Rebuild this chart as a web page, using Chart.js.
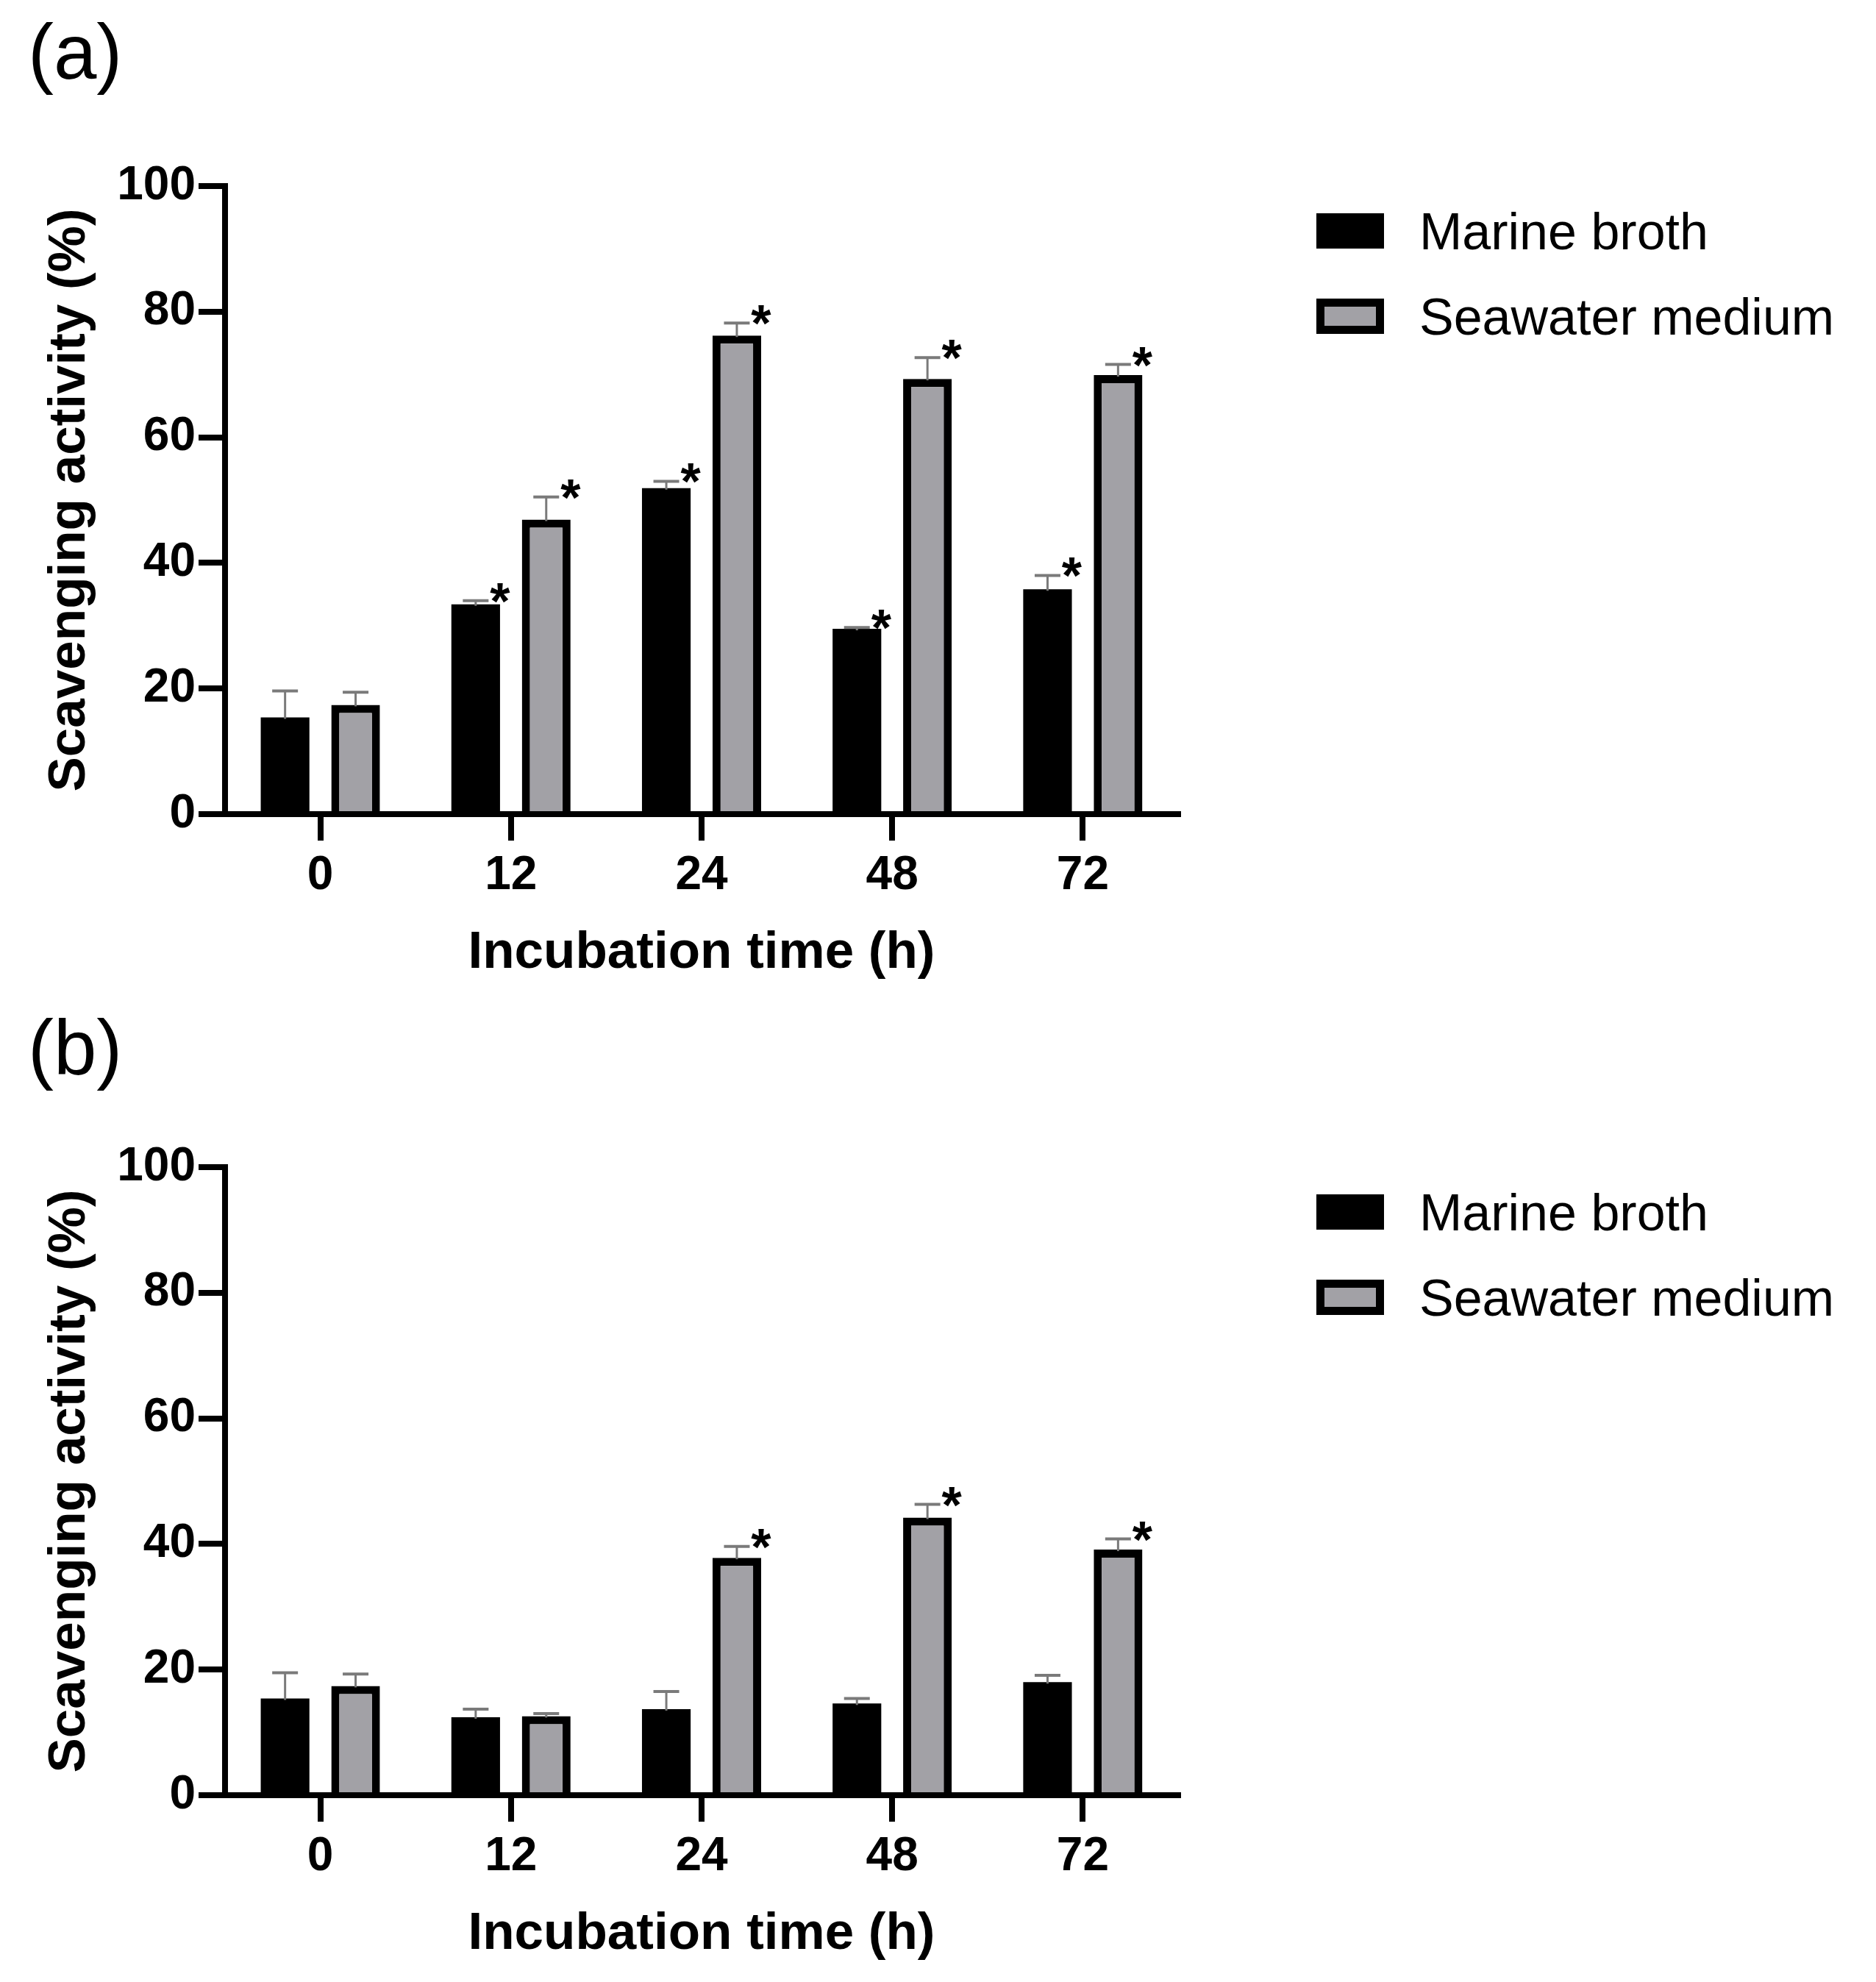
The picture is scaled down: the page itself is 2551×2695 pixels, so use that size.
<!DOCTYPE html>
<html><head><meta charset="utf-8">
<script src="https://cdn.jsdelivr.net/npm/chart.js@4.4.0/dist/chart.umd.min.js"></script>
<style>
html,body{margin:0;padding:0;background:#fff;}
body{width:2551px;height:2695px;position:relative;overflow:hidden;}
canvas{position:absolute;left:0;}
</style></head><body>
<canvas id="ca" width="2551" height="1341" style="top:0px;width:2551px;height:1341px"></canvas>
<canvas id="cb" width="2551" height="1341" style="top:1334px;width:2551px;height:1341px"></canvas>
<script>
// ---- data ----
const categories = ['0', '12', '24', '48', '72'];
const seriesNames = ['Marine broth', 'Seawater medium'];
const yTicks = [0, 20, 40, 60, 80, 100];
const xTitle = 'Incubation time (h)';
const yTitle = 'Scavenging activity (%)';

// panel (a)
const aMarine = [15.4, 33.4, 51.9, 29.5, 35.8];
const aMarineErr = [4.2, 0.6, 1.1, 0.2, 2.2];
const aMarineSig = ['', '*', '*', '*', '*'];
const aSeawater = [17.4, 46.9, 76.2, 69.3, 69.9];
const aSeawaterErr = [2.0, 3.6, 2.0, 3.4, 1.7];
const aSeawaterSig = ['', '*', '*', '*', '*'];

// panel (b)
const bMarine = [15.4, 12.4, 13.7, 14.6, 18.0];
const bMarineErr = [4.1, 1.3, 2.8, 0.8, 1.1];
const bMarineSig = ['', '', '', '', ''];
const bSeawater = [17.4, 12.6, 37.8, 44.2, 39.1];
const bSeawaterErr = [1.9, 0.4, 1.8, 2.1, 1.7];
const bSeawaterSig = ['', '', '*', '*', '*'];

// ---- style ----
const FONT = "'Liberation Sans', Arial, sans-serif";
const GREY = '#a2a1a6';
const ERRC = '#7a7a7a';

const extrasPlugin = {
  id: 'extras',
  afterDatasetsDraw(chart, args, opts) {
    const ctx = chart.ctx;
    const y = chart.scales.y;
    ctx.save();
    chart.data.datasets.forEach((ds, i) => {
      const meta = chart.getDatasetMeta(i);
      meta.data.forEach((el, j) => {
        const v = ds.data[j];
        const e = ds.err[j];
        const topPx = y.getPixelForValue(v + e);
        const barTop = el.y;
        ctx.strokeStyle = ERRC;
        ctx.lineWidth = 3;
        ctx.beginPath();
        ctx.moveTo(el.x, barTop + 2);
        ctx.lineTo(el.x, topPx);
        ctx.stroke();
        ctx.lineWidth = 4;
        ctx.beginPath();
        ctx.moveTo(el.x - 17.5, topPx);
        ctx.lineTo(el.x + 17.5, topPx);
        ctx.stroke();
        const s = ds.sig[j];
        if (s) {
          ctx.fillStyle = '#000';
          ctx.font = 'bold 70px ' + FONT;
          ctx.textAlign = 'center';
          ctx.textBaseline = 'alphabetic';
          ctx.fillText(s, el.x + 33, topPx - 15 + 40);
        }
      });
    });
    ctx.restore();
  },
  afterDraw(chart, args, opts) {
    const ctx = chart.ctx;
    ctx.save();
    ctx.fillStyle = '#000';
    ctx.font = '105px ' + FONT;
    ctx.textAlign = 'left';
    ctx.textBaseline = 'alphabetic';
    ctx.fillText(opts.panel, 38, opts.labelY);
    const lx = 1790, bw = 92, bh = 48, rows = [314, 430];
    chart.data.datasets.forEach((ds, i) => {
      const cy = rows[i];
      ctx.fillStyle = '#000';
      ctx.fillRect(lx, cy - bh / 2, bw, bh);
      if (ds.borderWidth > 0) {
        ctx.fillStyle = ds.backgroundColor;
        ctx.fillRect(lx + 11, cy - bh / 2 + 11, bw - 22, bh - 22);
      }
      ctx.fillStyle = '#000';
      ctx.font = '70px ' + FONT;
      ctx.textAlign = 'left';
      ctx.textBaseline = 'alphabetic';
      ctx.fillText(ds.label, 1930, cy + 25);
    });
    ctx.restore();
  }
};

function makeChart(id, panel, labelY, mv, me, ms, sv, se, ss) {
  return new Chart(document.getElementById(id), {
    type: 'bar',
    data: {
      labels: categories,
      datasets: [
        { label: seriesNames[0], data: mv, err: me, sig: ms,
          backgroundColor: '#000', borderColor: '#000', borderWidth: 0 },
        { label: seriesNames[1], data: sv, err: se, sig: ss,
          backgroundColor: GREY, borderColor: '#000', borderWidth: 11, borderSkipped: 'start' }
      ]
    },
    options: {
      responsive: false,
      animation: false,
      devicePixelRatio: 1,
      categoryPercentage: 0.74,
      barPercentage: 0.69,
      layout: { padding: { top: 253, right: 949, bottom: 0, left: 0 } },
      plugins: {
        legend: { display: false },
        tooltip: { enabled: false },
        extras: { panel: panel, labelY: labelY }
      },
      scales: {
        x: {
          type: 'category',
          offset: true,
          afterFit: s => { s.height = 234; },
          grid: { display: true, drawOnChartArea: false, drawTicks: true, offset: false,
                  tickLength: 36, tickWidth: 8, tickColor: '#000', color: '#000', lineWidth: 8 },
          border: { display: true, color: '#000', width: 8 },
          ticks: { color: '#000', padding: 10, font: { family: FONT, size: 64, weight: 'bold' } },
          title: { display: true, text: xTitle, color: '#000', padding: { top: 0, bottom: 9 },
                   font: { family: FONT, size: 71, weight: 'bold', lineHeight: 1 } }
        },
        y: {
          min: 0, max: 100,
          afterFit: s => { s.width = 306; },
          afterBuildTicks: s => { s.ticks = yTicks.map(v => ({ value: v })); },
          grid: { display: true, drawOnChartArea: false, drawTicks: true,
                  tickLength: 36, tickWidth: 8, tickColor: '#000', color: '#000', lineWidth: 8 },
          border: { display: true, color: '#000', width: 8 },
          ticks: { color: '#000', padding: 4, font: { family: FONT, size: 64, weight: 'bold' } },
          title: { display: true, text: yTitle, color: '#000', padding: { top: 60, bottom: 0 },
                   font: { family: FONT, size: 71, weight: 'bold', lineHeight: 1 } }
        }
      }
    },
    plugins: [extrasPlugin]
  });
}

makeChart('ca', '(a)', 107, aMarine, aMarineErr, aMarineSig, aSeawater, aSeawaterErr, aSeawaterSig);
makeChart('cb', '(b)', 127, bMarine, bMarineErr, bMarineSig, bSeawater, bSeawaterErr, bSeawaterSig);
</script>
</body></html>
